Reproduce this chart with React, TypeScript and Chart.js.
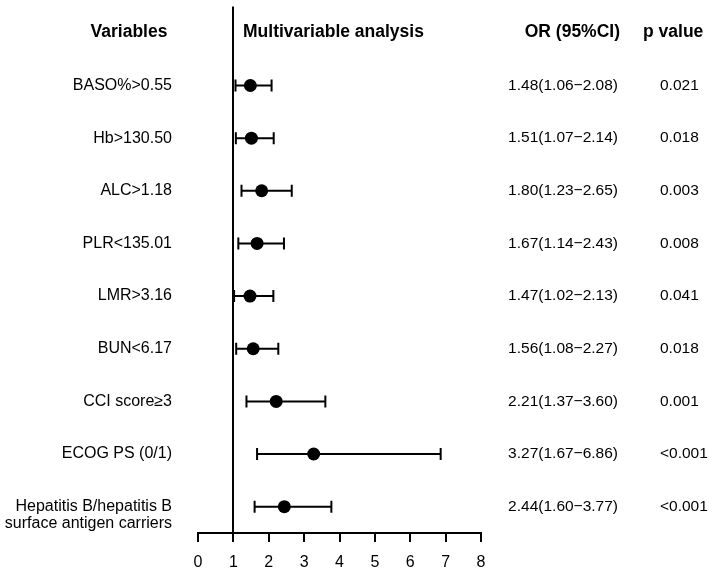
import React, { useEffect, useRef } from "react";
import { Chart, registerables } from "chart.js";

Chart.register(...registerables);

// Multivariable logistic regression results
const variables: (string | string[])[] = [
  "BASO%>0.55",
  "Hb>130.50",
  "ALC>1.18",
  "PLR<135.01",
  "LMR>3.16",
  "BUN<6.17",
  "CCI score≥3",
  "ECOG PS (0/1)",
  ["Hepatitis B/hepatitis B", "surface antigen carriers"],
];
const oddsRatios = [1.48, 1.51, 1.8, 1.67, 1.47, 1.56, 2.21, 3.27, 2.44];
const lowerCI = [1.06, 1.07, 1.23, 1.14, 1.02, 1.08, 1.37, 1.67, 1.6];
const upperCI = [2.08, 2.14, 2.65, 2.43, 2.13, 2.27, 3.6, 6.86, 3.77];
const pValues = ["0.021", "0.018", "0.003", "0.008", "0.041", "0.018", "0.001", "<0.001", "<0.001"];
const xMin = 0;
const xMax = 8;
const referenceOR = 1;

const FONT = "'Liberation Sans', Arial, Helvetica, sans-serif";

const forestPlugin = {
  id: "forest",
  beforeDatasetsDraw(chart: any) {
    const { ctx, chartArea, scales } = chart;
    const xs = scales.x;
    const ys = scales.y;
    ctx.save();
    ctx.strokeStyle = "#000";
    ctx.lineWidth = 2;

    // x axis: baseline, tick marks and tick labels from the scale's ticks
    const axisY = chartArea.bottom;
    const xLeft = xs.getPixelForValue(xMin);
    const xRight = xs.getPixelForValue(xMax);
    ctx.beginPath();
    ctx.moveTo(xLeft - 1, axisY);
    ctx.lineTo(xRight + 1, axisY);
    xs.ticks.forEach((t: any) => {
      const px = Math.round(xs.getPixelForValue(t.value));
      ctx.moveTo(px, axisY);
      ctx.lineTo(px, axisY + 9);
    });
    ctx.stroke();
    ctx.fillStyle = "#000";
    ctx.font = `16px ${FONT}`;
    ctx.textAlign = "center";
    ctx.textBaseline = "middle";
    xs.ticks.forEach((t: any) => {
      ctx.fillText(String(t.value), xs.getPixelForValue(t.value), axisY + 30);
    });

    // reference line at OR = 1
    const rx = Math.round(xs.getPixelForValue(referenceOR));
    ctx.beginPath();
    ctx.moveTo(rx, chartArea.top);
    ctx.lineTo(rx, chartArea.bottom);
    ctx.stroke();

    // confidence interval whiskers
    const cap = 6;
    oddsRatios.forEach((_, i) => {
      const y = ys.getPixelForValue(i + 1);
      const x0 = xs.getPixelForValue(lowerCI[i]);
      const x1 = xs.getPixelForValue(upperCI[i]);
      ctx.beginPath();
      ctx.moveTo(x0, y);
      ctx.lineTo(x1, y);
      ctx.moveTo(x0, y - cap);
      ctx.lineTo(x0, y + cap);
      ctx.moveTo(x1, y - cap);
      ctx.lineTo(x1, y + cap);
      ctx.stroke();
    });
    ctx.restore();
  },
  afterDraw(chart: any) {
    const { ctx, scales } = chart;
    const ys = scales.y;
    ctx.save();
    ctx.fillStyle = "#000";
    ctx.textBaseline = "middle";

    const headY = ys.getPixelForValue(0) - 1;
    ctx.font = `bold 17.5px ${FONT}`;
    ctx.textAlign = "center";
    ctx.fillText("Variables", 129, headY);
    ctx.textAlign = "left";
    ctx.fillText("Multivariable analysis", 243, headY);
    ctx.textAlign = "right";
    ctx.fillText("OR (95%CI)", 620, headY);
    ctx.textAlign = "left";
    ctx.fillText("p value", 643, headY);

    variables.forEach((label, i) => {
      const y = ys.getPixelForValue(i + 1);
      ctx.font = `16px ${FONT}`;
      ctx.textAlign = "right";
      const lines = Array.isArray(label) ? label : [label];
      lines.forEach((ln, k) => ctx.fillText(ln, 172, y + k * 17));

      ctx.font = `15.5px ${FONT}`;
      ctx.textAlign = "right";
      const orText = `${oddsRatios[i].toFixed(2)}(${lowerCI[i].toFixed(2)}\u2212${upperCI[i].toFixed(2)})`;
      ctx.fillText(orText, 618, y);
      ctx.textAlign = "left";
      ctx.fillText(pValues[i], 660, y);
    });
    ctx.restore();
  },
};

export default function App() {
  const ref = useRef<HTMLCanvasElement | null>(null);

  useEffect(() => {
    if (!ref.current) return;
    const chart = new Chart(ref.current, {
      type: "scatter",
      data: {
        datasets: [
          {
            data: oddsRatios.map((v, i) => ({ x: v, y: i + 1 })),
            backgroundColor: "#000",
            borderColor: "#000",
            borderWidth: 0,
            pointRadius: 6.5,
            pointHoverRadius: 6.5,
          },
        ],
      },
      options: {
        responsive: false,
        animation: false,
        events: [],
        layout: { padding: { left: 198, right: 228, top: 3, bottom: 37 } },
        plugins: {
          legend: { display: false },
          tooltip: { enabled: false },
        },
        scales: {
          x: {
            type: "linear",
            display: false,
            min: xMin,
            max: xMax,
            ticks: { stepSize: 1 },
          },
          y: {
            type: "linear",
            display: false,
            reverse: true,
            min: -0.5,
            max: 9.5,
          },
        },
      },
      plugins: [forestPlugin],
    });
    return () => chart.destroy();
  }, []);

  return (
    <div style={{ position: "absolute", left: 0, top: 0, width: 709, height: 570, background: "#fff", overflow: "hidden" }}>
      <canvas ref={ref} width={709} height={570} style={{ display: "block" }} />
    </div>
  );
}
